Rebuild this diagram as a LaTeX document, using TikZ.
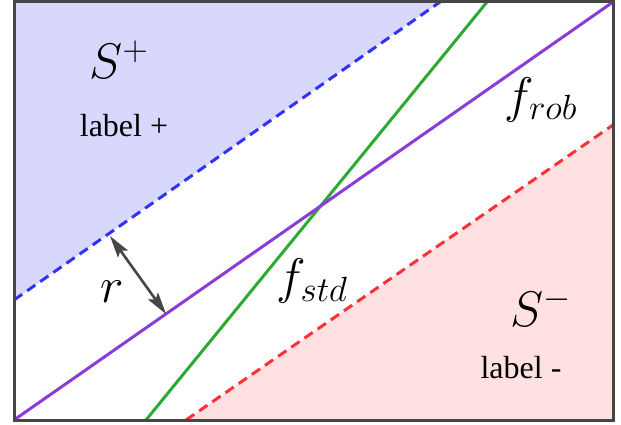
\RequirePackage{fix-cm}
\documentclass[tikz,border=0pt]{standalone}
\usepackage{fontspec}
\newfontfamily\tms{Liberation Serif}
\usetikzlibrary{arrows.meta}
\definecolor{bfill}{RGB}{216,216,252}
\definecolor{rfill}{RGB}{255,225,225}
\definecolor{plin}{RGB}{138,60,214}
\definecolor{glin}{RGB}{44,170,50}
\definecolor{blin}{RGB}{50,50,250}
\definecolor{rlin}{RGB}{250,50,55}
\definecolor{frm}{RGB}{70,70,70}
\tikzset{
  sep/.style={line width=3pt},
  dsh/.style={line width=3pt, dash pattern=on 10pt off 6pt},
  lab/.style={font=\tms\fontsize{32}{36}\selectfont, inner sep=0pt},
  mlab/.style={font=\fontsize{50}{56}\selectfont, inner sep=0pt},
  dblarrow/.style={line width=2.6pt, frm, >={Stealth[length=22pt,width=12pt,inset=4pt]}, <->},
}
\begin{document}
\begin{tikzpicture}[x=1pt,y=-1pt]
\useasboundingbox (0,0) rectangle (621,425);
% corners and line ends
\coordinate (TL) at (14,2);
\coordinate (TR) at (613,2);
\coordinate (BL) at (14,420);
\coordinate (BR) at (613,420);
\coordinate (b1) at (14,300);
\coordinate (b2) at (440,2);
\coordinate (r1) at (186,420);
\coordinate (r2) at (613,125);
\coordinate (g1) at (146,420);
\coordinate (g2) at (487,2);
\coordinate (a1) at (110,236);
\coordinate (a2) at (166,314);
% regions
\fill[bfill] (TL) -- (b2) -- (b1) -- cycle;
\fill[rfill] (r1) -- (BR) -- (r2) -- cycle;
% lines
\draw[dsh, blin] (b1) -- (b2);
\draw[dsh, rlin] (r1) -- (r2);
\draw[sep, glin] (g1) -- (g2);
\draw[sep, plin] (BL) -- (TR);
% arrow
\draw[dblarrow] (a1) -- (a2);
% frame
\draw[line width=3pt, frm] (TL) rectangle (BR);
% labels
\node[mlab] (sp) at (119,60) {$S^{+}$};
\node[lab] (lp) at (124,126) {label +};
\node[mlab] (fr) at (541,100) {$f_{rob}$};
\node[mlab] (fs) at (312,281) {$f_{std}$};
\node[mlab] (rr) at (112,292) {$r$};
\node[mlab] (sm) at (541,307) {$S^{-}$};
\node[lab] (lm) at (521,368) {label -};
\end{tikzpicture}
\end{document}
